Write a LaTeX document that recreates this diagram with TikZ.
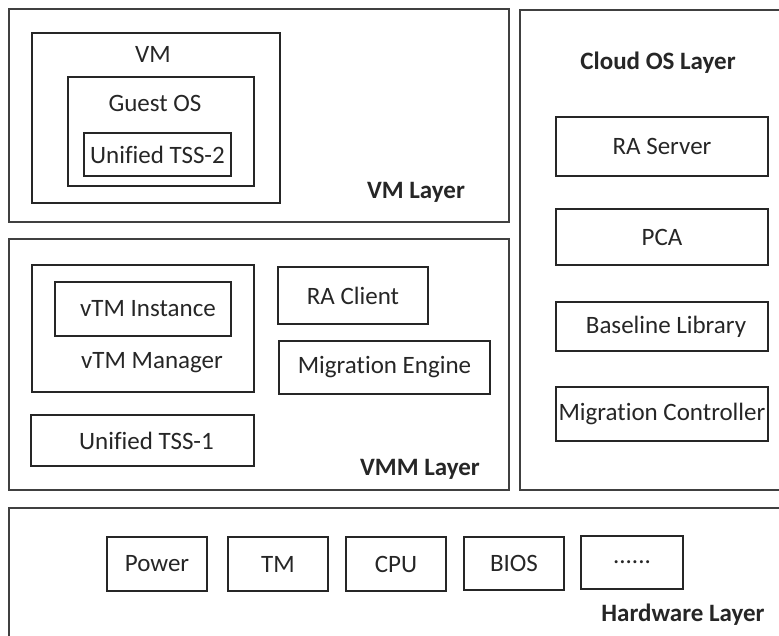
\documentclass[tikz,border=0pt]{standalone}
\usepackage{fontspec}
\setmainfont{Carlito}[Ligatures=NoCommon]
\tikzset{
  layer/.style={draw=black!75, line width=1.4pt, inner sep=0pt},
  comp/.style={draw=black!85, line width=1.8pt, inner sep=0pt, text=black!85,
    font=\fontsize{25}{29}\selectfont},
  lbl/.style={inner sep=0pt, text=black!85, font=\fontsize{25}{29}\selectfont},
  layerlbl/.style={lbl, font=\fontsize{25}{29}\selectfont\bfseries}
}
\begin{document}
\begin{tikzpicture}[x=1pt, y=-1pt]
  \useasboundingbox (0,0) rectangle (779,635);
  \clip (0,0) rectangle (779,635);
  \node[layer, minimum width=500, minimum height=213] (vmlayer) at (259,115.5) {};
  \node[layer, minimum width=280, minimum height=480] (cloudlayer) at (660,250) {};
  \node[layer, minimum width=500, minimum height=251] (vmmlayer) at (259,364.5) {};
  \node[layer, minimum width=790, minimum height=160] (hwlayer) at (404,588) {};
  \node[comp, minimum width=248, minimum height=170] (vm) at (156,118) {};
  \node[comp, minimum width=186, minimum height=109] (guestos) at (161,131.5) {};
  \node[comp, minimum width=147, minimum height=43] (tss2) at (157.5,154.5) {Unified TSS-2};
  \node[lbl] (vmlbl) at (153,54) {VM};
  \node[lbl] (guestlbl) at (155,103) {Guest OS};
  \node[layerlbl] (vmlayerlbl) at (416,192) {VM Layer};
  \node[layerlbl] (cloudlbl) at (658,63) {Cloud OS Layer};
  \node[comp, minimum width=212, minimum height=59] (raserver) at (662,146.5) {RA Server};
  \node[comp, minimum width=212, minimum height=56] (pca) at (662,237) {PCA};
  \node[comp, minimum width=212, minimum height=49] (baseline) at (662,326.5) {\hspace{8pt}Baseline Library};
  \node[comp, minimum width=212, minimum height=54] (migctrl) at (662,414) {Migration Controller};
  \node[comp, minimum width=222, minimum height=127] (vtmmgr) at (143,328.5) {};
  \node[comp, minimum width=176, minimum height=54] (vtminst) at (143,309) {\hspace{10pt}vTM Instance};
  \node[lbl] (vtmmgrlbl) at (152,363) {vTM Manager};
  \node[comp, minimum width=150, minimum height=57] (raclient) at (353,295.5) {RA Client\hspace{8pt}};
  \node[comp, minimum width=211, minimum height=53] (migengine) at (384.5,367.5) {Migration Engine\hspace{6pt}};
  \node[comp, minimum width=223, minimum height=51] (tss1) at (142.5,440.5) {\hspace{8pt}Unified TSS-1};
  \node[layerlbl] (vmmlbl) at (420,469) {VMM Layer};
  \node[comp, minimum width=100, minimum height=54] (power) at (157,564) {Power};
  \node[comp, minimum width=100, minimum height=54] (tm) at (278,564) {TM};
  \node[comp, minimum width=100, minimum height=54] (cpu) at (396,564) {CPU};
  \node[comp, minimum width=100, minimum height=53] (bios) at (514,563.5) {BIOS};
  \node[comp, minimum width=102, minimum height=53] (dots) at (632,562.5) {......};
  \node[layerlbl] (hwlbl) at (683,615) {Hardware Layer};
\end{tikzpicture}
\end{document}
